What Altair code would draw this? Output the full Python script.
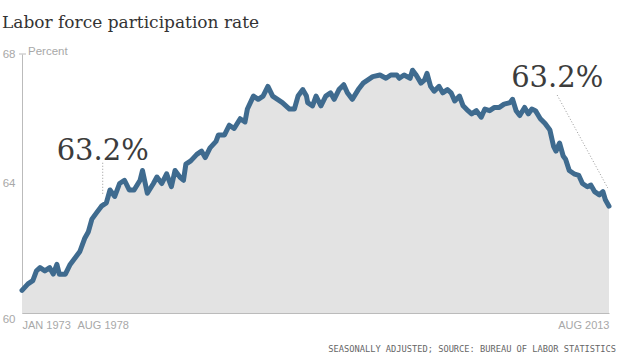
import altair as alt
import pandas as pd

# ---- data ----
months = [
    "1973-01", "1973-06", "1973-10", "1974-01", "1974-04", "1974-08", "1974-12",
    "1975-03", "1975-06", "1975-08", "1976-01", "1976-05", "1976-09", "1977-01",
    "1977-05", "1977-08", "1977-11", "1978-03", "1978-07", "1978-11", "1979-02",
    "1979-06", "1979-10", "1980-02", "1980-06", "1980-10", "1981-03", "1981-05",
    "1981-09", "1982-02", "1982-05", "1982-09", "1983-01", "1983-05", "1983-08",
    "1983-12", "1984-03", "1984-05", "1984-09", "1985-02", "1985-06", "1985-09",
    "1986-01", "1986-06", "1986-08", "1987-01", "1987-05", "1987-09", "1988-02",
    "1988-06", "1988-08", "1989-01", "1989-05", "1989-09", "1990-01", "1990-05",
    "1990-09", "1991-01", "1991-07", "1991-11", "1992-02", "1992-06", "1992-09",
    "1992-10", "1993-02", "1993-05", "1993-09", "1994-01", "1994-05", "1994-08",
    "1994-12", "1995-04", "1995-07", "1995-11", "1996-04", "1996-08", "1996-12",
    "1997-04", "1997-10", "1998-03", "1998-07", "1998-12", "1999-02", "1999-06",
    "1999-11", "2000-01", "2000-04", "2000-08", "2000-11", "2001-01", "2001-04",
    "2001-07", "2001-11", "2002-02", "2002-06", "2002-09", "2002-12", "2003-04",
    "2003-07", "2003-11", "2004-02", "2004-06", "2004-10", "2005-01", "2005-05",
    "2005-09", "2006-01", "2006-05", "2006-10", "2006-12", "2007-03", "2007-06",
    "2007-10", "2008-01", "2008-04", "2008-07", "2008-11", "2009-03", "2009-07",
    "2009-10", "2009-12", "2010-03", "2010-06", "2010-08", "2010-11", "2011-03",
    "2011-07", "2011-10", "2012-02", "2012-05", "2012-08", "2012-12", "2013-03",
    "2013-05", "2013-08",
]
rate = [
    60.7, 60.9, 61.0, 61.3, 61.4, 61.3, 61.4,
    61.2, 61.5, 61.2, 61.2, 61.5, 61.7, 61.9,
    62.3, 62.5, 62.9, 63.1, 63.3, 63.4, 63.8,
    63.6, 64.0, 64.1, 63.8, 63.8, 64.1, 64.4,
    63.7, 64.0, 64.2, 64.0, 64.3, 63.9, 64.4,
    64.2, 64.1, 64.6, 64.7, 64.9, 65.0, 64.8,
    65.1, 65.3, 65.5, 65.5, 65.8, 65.7, 66.0,
    65.9, 66.3, 66.7, 66.6, 66.7, 67.0, 66.7,
    66.6, 66.5, 66.3, 66.3, 66.7, 66.9, 66.7,
    66.5, 66.4, 66.7, 66.4, 66.7, 66.8, 66.6,
    66.9, 67.05, 66.8, 66.6, 66.9, 67.1, 67.2,
    67.3, 67.35, 67.25, 67.35, 67.35, 67.25, 67.35,
    67.25, 67.5, 67.35, 67.1, 67.2, 67.4, 67.0,
    66.85, 67.0, 66.8, 66.9, 66.8, 66.55, 66.7,
    66.4, 66.25, 66.15, 66.25, 66.05, 66.3, 66.25,
    66.35, 66.35, 66.45, 66.5, 66.6, 66.25, 66.1,
    66.35, 66.15, 66.3, 66.25, 66.0, 65.85, 65.65,
    65.15, 65.0, 65.25, 64.85, 64.75, 64.4, 64.3,
    64.25, 64.0, 63.9, 63.95, 63.75, 63.65, 63.75,
    63.5, 63.3,
]

y_ticks = [60, 64, 68]
x_tick_months = [(1973, 1), (1978, 8), (2013, 8)]

ann_text = ["63.2%", "63.2%"]
ann_text_month = ["1978-08", "2010-01"]
ann_text_value = [64.73, 66.98]
ann_line_month = ["1978-08", "2010-01"]
ann_line_value = [64.64, 66.73]
ann_line_month2 = ["1978-08", "2013-07"]
ann_line_value2 = [63.65, 63.86]

title_text = "Labor force participation rate"
unit_text = "Percent"
source_text = "SEASONALLY ADJUSTED; SOURCE: BUREAU OF LABOR STATISTICS"

# ---- styles ----
NARROW = "Liberation Sans Narrow, Liberation Sans, Arial, sans-serif"
SERIF = "DejaVu Serif"
GRAY_TXT = "#a8a8a8"
AXIS_LINE = "#bbbbbb"
LINE_COLOR = "#3f6b8f"
AREA_COLOR = "#e3e3e3"

df = pd.DataFrame({"date": [m + "-01" for m in months], "rate": rate})
ann = pd.DataFrame({
    "label": ann_text,
    "tdate": [m + "-01" for m in ann_text_month],
    "tval": ann_text_value,
    "ldate": [m + "-01" for m in ann_line_month],
    "lval": ann_line_value,
    "ldate2": [m + "-01" for m in ann_line_month2],
    "lval2": ann_line_value2,
})


def dt(y, m):
    return alt.DateTime(year=y, month=m, date=1, utc=True)


x_scale = alt.Scale(type="utc", domain=[dt(1973, 1), dt(2013, 8)], nice=False)
y_scale = alt.Scale(domain=[60, 68], nice=False, zero=False)

x_axis = alt.Axis(
    values=[dt(y, m) for y, m in x_tick_months],
    labelExpr="upper(utcFormat(datum.value, '%b %Y'))",
    labelFlush=True,
    labelOverlap=False,
    ticks=False,
    grid=False,
    domainColor=AXIS_LINE,
    labelColor=GRAY_TXT,
    labelFont=NARROW,
    labelFontSize=11,
    labelPadding=6,
    title=None,
)
y_axis = alt.Axis(
    values=y_ticks,
    ticks=False,
    grid=False,
    labelOverlap=False,
    domainColor=AXIS_LINE,
    labelColor=GRAY_TXT,
    labelFont=NARROW,
    labelFontSize=11.5,
    labelPadding=7,
    labelBaseline={"condition": {"test": "datum.value == 60", "value": "top"}, "value": "middle"},
    title=None,
)

base = alt.Chart(df)

area = base.mark_area(color=AREA_COLOR).encode(
    x=alt.X("date:T", scale=x_scale, axis=x_axis),
    y=alt.Y("rate:Q", scale=y_scale, axis=y_axis),
    y2=alt.datum(60),
)
line = base.mark_line(
    color=LINE_COLOR, strokeWidth=5, strokeJoin="round", strokeCap="round"
).encode(x="date:T", y="rate:Q")

top_tick = alt.Chart(pd.DataFrame({"v": [68]})).mark_rule(
    color=AXIS_LINE, strokeWidth=1
).encode(y="v:Q", x=alt.value(-3), x2=alt.value(4))

unit = alt.Chart(pd.DataFrame({"v": [68], "t": [unit_text]})).mark_text(
    align="left", baseline="middle", font=NARROW, fontSize=11.5, color=GRAY_TXT, dy=-2
).encode(y="v:Q", x=alt.value(6), text="t:N")

ann_lines = alt.Chart(ann).mark_rule(
    color="#999999", strokeWidth=1, strokeDash=[1, 2]
).encode(x="ldate:T", y="lval:Q", x2="ldate2:T", y2="lval2:Q")

ann_labels = alt.Chart(ann).mark_text(
    align="center", baseline="alphabetic", font=SERIF, fontSize=29, color="#3c3c3c"
).encode(x="tdate:T", y="tval:Q", text="label:N")

source = alt.Chart(pd.DataFrame({"t": [source_text]})).mark_text(
    align="right", baseline="middle", font="DejaVu Sans Mono", fontSize=8.7, color="#666666"
).encode(x=alt.value(594), y=alt.value(295), text="t:N")

chart = (
    alt.layer(area, line, top_tick, unit, ann_lines, ann_labels, source)
    .properties(
        width=587,
        height=259,
        autosize=alt.AutoSizeParams(type="none"),
        padding={"left": 22, "top": 54, "right": 11, "bottom": 42},
        title=alt.TitleParams(
            title_text,
            anchor="start",
            frame="group",
            dx=-20,
            offset=14,
            font=SERIF,
            fontSize=17,
            fontWeight="normal",
            color="#333333",
        ),
        background="white",
    )
    .configure_view(stroke=None)
)

chart.save("out.html", embed_options={"renderer": "svg", "actions": False})
